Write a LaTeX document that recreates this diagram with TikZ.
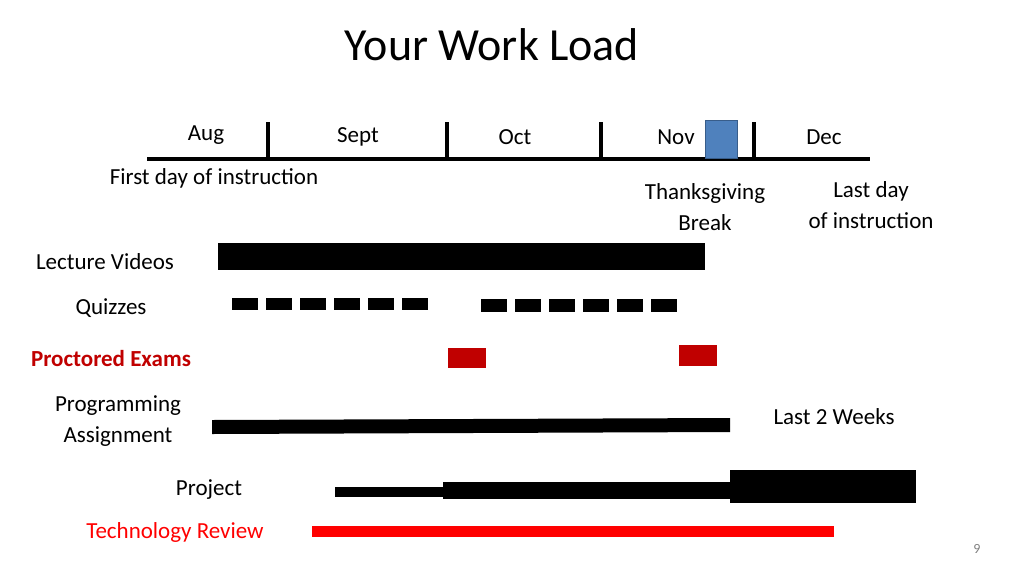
\documentclass[tikz,border=0pt]{standalone}
\usepackage{fontspec}
\setmainfont{Carlito}
\definecolor{dred}{RGB}{192,0,0}
\definecolor{novblue}{RGB}{79,129,189}
\definecolor{novedge}{RGB}{56,93,138}
\begin{document}
\begin{tikzpicture}[x=1pt,y=-1pt,
  lbl/.style={font=\fontsize{23}{27}\selectfont, align=center},
  tick/.style={line width=4pt}]
\useasboundingbox (0,0) rectangle (1024,576);
\node[font=\fontsize{46}{50}\selectfont] (title) at (492,45) {Your Work Load};
\coordinate (ls) at (147,159); \coordinate (le) at (870,159);
\draw[line width=4.5pt] (ls) -- (le);
\foreach \x in {268,447,601,754} \draw[tick] (\x,122) -- (\x,157);
\node[lbl] (aug) at (206,135) {Aug};
\node[lbl] (sep) at (358,137) {Sept};
\node[lbl] (oct) at (515,137) {Oct};
\node[lbl] (nov) at (676,137) {Nov};
\node[lbl] (dec) at (824,137) {Dec};
\draw[fill=novblue, draw=novedge, line width=1pt] (705,120) rectangle (737,158);
\node[lbl] (first) at (214,178) {First day of instruction};
\node[lbl, font=\fontsize{23}{31}\selectfont] (tg) at (705,207) {Thanksgiving\\Break};
\node[lbl, font=\fontsize{23}{31}\selectfont] (last) at (871,205) {Last day\\of instruction};
\node[lbl] (lv) at (105,262) {Lecture Videos};
\fill (218,243) rectangle (705,270);
\node[lbl] (qz) at (111,308) {Quizzes};
\foreach \i in {0,...,5} {
  \fill (232+\i*34,298) rectangle (258+\i*34,310);
  \fill (481+\i*34,299) rectangle (507+\i*34,312);}
\node[lbl, font=\bfseries\fontsize{23}{27}\selectfont, text=dred] (pe) at (111,359) {Proctored Exams};
\fill[dred] (448,348) rectangle (486,368);
\fill[dred] (679,345) rectangle (717,366);
\node[lbl, font=\fontsize{23}{31}\selectfont] (pa) at (118,421) {Programming\\Assignment};
\fill (212,420) -- (730,418) -- (730,432) -- (212,434) -- cycle;
\node[lbl] (l2) at (834,417) {Last 2 Weeks};
\node[lbl] (pr) at (209,490) {Project};
\fill (335,487) rectangle (443,497);
\fill (443,482) rectangle (730,499);
\fill (730,470) rectangle (916,503);
\node[lbl, text=red] (tr) at (175,532) {Technology Review};
\fill[red] (312,526) rectangle (834,537);
\node[font=\fontsize{14}{16}\selectfont, text=gray] (pg) at (977,549) {9};
\end{tikzpicture}
\end{document}
